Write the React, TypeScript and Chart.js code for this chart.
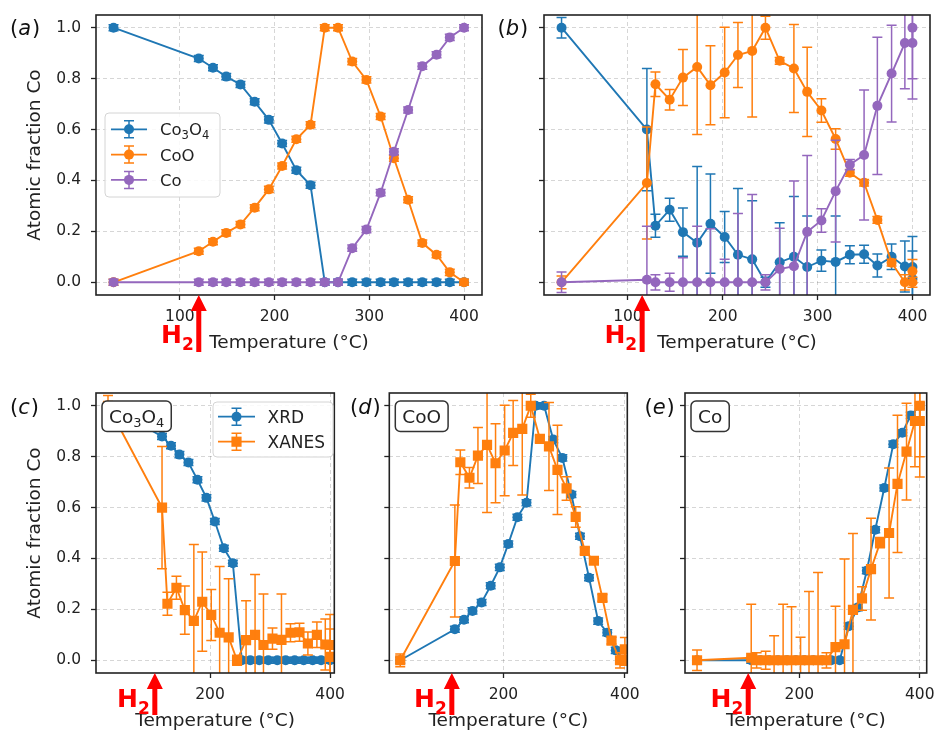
import React, { useEffect, useRef } from 'react';
import { Chart, registerables } from 'chart.js';

Chart.register(...registerables);

// ---------------- Data ----------------
// XRD (panel a, and blue series in c-e)
const xrdTemps = [30, 120, 135, 149, 164, 179, 194, 208, 223, 238, 253, 267, 282, 297, 312, 326, 341, 356, 371, 385, 400];
const xrdCo3O4 = [1.0, 0.879, 0.843, 0.808, 0.777, 0.709, 0.638, 0.545, 0.44, 0.381, 0, 0, 0, 0, 0, 0, 0, 0, 0, 0, 0];
const xrdCoO = [0, 0.122, 0.159, 0.194, 0.227, 0.293, 0.365, 0.457, 0.562, 0.619, 1.0, 1.0, 0.867, 0.795, 0.651, 0.487, 0.324, 0.154, 0.108, 0.039, 0];
const xrdCo = [0, 0, 0, 0, 0, 0, 0, 0, 0, 0, 0, 0, 0.134, 0.207, 0.352, 0.513, 0.677, 0.849, 0.894, 0.962, 1.0];
const xrdErr = 0.012;

// XANES (panel b, and orange series in c-e)
const xanesTemps = [30, 120, 129, 144, 158, 173, 187, 202, 216, 231, 245, 260, 275, 289, 304, 319, 334, 349, 363, 378, 392, 400, 400];
const xanesCo3O4 = [1.0, 0.6, 0.222, 0.285, 0.197, 0.155, 0.23, 0.178, 0.108, 0.09, 0.0, 0.079, 0.1, 0.06, 0.085, 0.08, 0.108, 0.11, 0.066, 0.1, 0.062, 0.06, 0.013];
const xanesCo3O4Err = [0.04, 0.24, 0.045, 0.045, 0.095, 0.3, 0.195, 0.1, 0.26, 0.23, 0.02, 0.155, 0.237, 0.2, 0.042, 0.18, 0.035, 0.035, 0.045, 0.05, 0.1, 0.12, 0.11];
const xanesCoO = [0.0, 0.39, 0.778, 0.717, 0.804, 0.846, 0.774, 0.824, 0.893, 0.909, 1.0, 0.87, 0.84, 0.748, 0.675, 0.563, 0.43, 0.391, 0.245, 0.077, 0.0, 0.0, 0.043];
const xanesCoOErr = [0.025, 0.22, 0.048, 0.04, 0.11, 0.265, 0.155, 0.178, 0.128, 0.26, 0.045, 0.013, 0.173, 0.175, 0.046, 0.04, 0.013, 0.013, 0.013, 0.013, 0.03, 0.02, 0.046];
const xanesCo = [0, 0.01, 0, 0, 0, 0, 0, 0, 0, 0, 0, 0.052, 0.063, 0.198, 0.243, 0.358, 0.462, 0.5, 0.693, 0.82, 0.94, 0.94, 1.0];
const xanesCoErr = [0.04, 0.21, 0.03, 0.035, 0.096, 0.22, 0.21, 0.09, 0.27, 0.345, 0.03, 0.16, 0.335, 0.3, 0.046, 0.2, 0.02, 0.255, 0.27, 0.19, 0.18, 0.22, 0.2];

// Tick values and texts
const yTicks = [0, 0.2, 0.4, 0.6, 0.8, 1.0];
const xTicksTop = [100, 200, 300, 400];
const xTicksBottom = [200, 400];
const yTitle = 'Atomic fraction Co';
const xTitle = 'Temperature (°C)';
const h2Label = 'H₂';

// ---------------- Styles ----------------
const FONT = "'DejaVu Sans', sans-serif";
const BLUE = '#1f77b4';
const ORANGE = '#ff7f0e';
const PURPLE = '#9467bd';
const RED = '#ff0000';
const TEXT = '#222222';
const W = 936;
const H = 731;
const CIRCLE_R = 5;
const RECT_R = 7.2;

type Series = {
  label: string;
  temps: number[];
  values: number[];
  errors: number[] | number;
  color: string;
  marker: string;
  order: number;
};

const sCo3O4Xrd: Series = { label: 'Co₃O₄', temps: xrdTemps, values: xrdCo3O4, errors: xrdErr, color: BLUE, marker: 'circle', order: 3 };
const sCoOXrd: Series = { label: 'CoO', temps: xrdTemps, values: xrdCoO, errors: xrdErr, color: ORANGE, marker: 'circle', order: 2 };
const sCoXrd: Series = { label: 'Co', temps: xrdTemps, values: xrdCo, errors: xrdErr, color: PURPLE, marker: 'circle', order: 1 };

const PANELS: any[] = [
  {
    id: 'a', letter: 'a', labelPos: [10, 34.5],
    plot: [96, 15, 482, 295], xRange: [11.5, 419], xTicks: xTicksTop, yLabels: true,
    series: [sCo3O4Xrd, sCoOXrd, sCoXrd],
    h2T: 120, arrowLen: 57, h2Base: 48,
    legend: { x: 105, y: 113, w: 115, h: 84, row0: 129.3, step: 25.3, font: 16.5, g0: 6, g1: 42, tx: 55 },
  },
  {
    id: 'b', letter: 'b', labelPos: [497.5, 34.5],
    plot: [544, 15, 930, 295], xRange: [11.5, 418.5], xTicks: xTicksTop, yLabels: false,
    series: [
      { label: 'Co₃O₄', temps: xanesTemps, values: xanesCo3O4, errors: xanesCo3O4Err, color: BLUE, marker: 'circle', order: 3 },
      { label: 'CoO', temps: xanesTemps, values: xanesCoO, errors: xanesCoOErr, color: ORANGE, marker: 'circle', order: 2 },
      { label: 'Co', temps: xanesTemps, values: xanesCo, errors: xanesCoErr, color: PURPLE, marker: 'circle', order: 1 },
    ],
    h2T: 115, arrowLen: 57, h2Base: 48,
  },
  {
    id: 'c', letter: 'c', labelPos: [10, 414],
    plot: [96, 393, 334.3, 673], xRange: [10, 407], xTicks: xTicksBottom, yLabels: true,
    series: [
      { label: 'XRD', temps: xrdTemps, values: xrdCo3O4, errors: xrdErr, color: BLUE, marker: 'circle', order: 2 },
      { label: 'XANES', temps: xanesTemps, values: xanesCo3O4, errors: xanesCo3O4Err, color: ORANGE, marker: 'rect', order: 1 },
    ],
    tag: 'Co₃O₄',
    h2T: 108, arrowLen: 42, h2Base: 34,
    legend: { x: 213, y: 402, w: 120, h: 55, row0: 416.7, step: 25, font: 17, g0: 5, g1: 42, tx: 54.5 },
  },
  {
    id: 'd', letter: 'd', labelPos: [350, 414],
    plot: [389.3, 393, 627.3, 673], xRange: [12, 404], xTicks: xTicksBottom, yLabels: false,
    series: [
      { label: 'XRD', temps: xrdTemps, values: xrdCoO, errors: xrdErr, color: BLUE, marker: 'circle', order: 2 },
      { label: 'XANES', temps: xanesTemps, values: xanesCoO, errors: xanesCoOErr, color: ORANGE, marker: 'rect', order: 1 },
    ],
    tag: 'CoO',
    h2T: 115, arrowLen: 42, h2Base: 34,
  },
  {
    id: 'e', letter: 'e', labelPos: [644.5, 414],
    plot: [685, 393, 926.7, 673], xRange: [10, 411.5], xTicks: xTicksBottom, yLabels: false,
    series: [
      { label: 'XRD', temps: xrdTemps, values: xrdCo, errors: xrdErr, color: BLUE, marker: 'circle', order: 2 },
      { label: 'XANES', temps: xanesTemps, values: xanesCo, errors: xanesCoErr, color: ORANGE, marker: 'rect', order: 1 },
    ],
    tag: 'Co',
    h2T: 115, arrowLen: 42, h2Base: 34,
  },
];

// ---------------- Drawing helpers ----------------
const SUBS = '₀₁₂₃₄₅₆₇₈₉';
function splitSubs(text: string) {
  const segs: { t: string; sub: boolean }[] = [];
  for (const ch of text) {
    const k = SUBS.indexOf(ch);
    const sub = k >= 0;
    const c = sub ? String(k) : ch;
    if (segs.length && segs[segs.length - 1].sub === sub) segs[segs.length - 1].t += c;
    else segs.push({ t: c, sub });
  }
  return segs;
}

function drawRich(ctx: any, text: string, x: number, baseline: number, size: number, align: string, weight = 'normal', subScale = 0.7, subDrop = 0.2, measureOnly = false) {
  const segs = splitSubs(text);
  const widths = segs.map((s) => {
    ctx.font = `${weight} ${s.sub ? size * subScale : size}px ${FONT}`;
    return ctx.measureText(s.t).width;
  });
  const total = widths.reduce((a, b) => a + b, 0);
  if (measureOnly) return total;
  let cx = align === 'left' ? x : align === 'right' ? x - total : x - total / 2;
  ctx.textAlign = 'left';
  ctx.textBaseline = 'alphabetic';
  segs.forEach((s, i) => {
    ctx.font = `${weight} ${s.sub ? size * subScale : size}px ${FONT}`;
    ctx.fillText(s.t, cx, baseline + (s.sub ? size * subDrop : 0));
    cx += widths[i];
  });
  return total;
}

function roundRect(ctx: any, x: number, y: number, w: number, h: number, r: number) {
  ctx.beginPath();
  ctx.moveTo(x + r, y);
  ctx.lineTo(x + w - r, y);
  ctx.arcTo(x + w, y, x + w, y + r, r);
  ctx.lineTo(x + w, y + h - r);
  ctx.arcTo(x + w, y + h, x + w - r, y + h, r);
  ctx.lineTo(x + r, y + h);
  ctx.arcTo(x, y + h, x, y + h - r, r);
  ctx.lineTo(x, y + r);
  ctx.arcTo(x, y, x + r, y, r);
  ctx.closePath();
}

function drawMarker(ctx: any, style: string, x: number, y: number, color: string) {
  ctx.fillStyle = color;
  ctx.beginPath();
  if (style === 'rect') {
    const s = RECT_R * Math.SQRT1_2;
    ctx.rect(x - s, y - s, 2 * s, 2 * s);
  } else {
    ctx.arc(x, y, CIRCLE_R, 0, Math.PI * 2);
  }
  ctx.fill();
}

const errorBarPlugin = {
  id: 'errorBars',
  afterDatasetDraw(chart: any, args: any) {
    const ds = chart.data.datasets[args.index];
    const errs = ds.errors;
    if (errs == null) return;
    const ys = chart.scales.y;
    const ctx = chart.ctx;
    const a = chart.chartArea;
    const cap = 5;
    ctx.save();
    ctx.beginPath();
    ctx.rect(a.left, a.top, a.right - a.left, a.bottom - a.top);
    ctx.clip();
    ctx.strokeStyle = ds.borderColor;
    ctx.lineWidth = 1.5;
    args.meta.data.forEach((pt: any, i: number) => {
      const e = Array.isArray(errs) ? errs[i] : errs;
      const v = ds.data[i].y;
      const yt = ys.getPixelForValue(v + e);
      const yb = ys.getPixelForValue(v - e);
      ctx.beginPath();
      ctx.moveTo(pt.x, yt);
      ctx.lineTo(pt.x, yb);
      ctx.moveTo(pt.x - cap, yt);
      ctx.lineTo(pt.x + cap, yt);
      ctx.moveTo(pt.x - cap, yb);
      ctx.lineTo(pt.x + cap, yb);
      ctx.stroke();
    });
    ctx.restore();
  },
};

const framePlugin = {
  id: 'frame',
  afterDatasetsDraw(chart: any) {
    const a = chart.chartArea;
    const ctx = chart.ctx;
    ctx.save();
    ctx.strokeStyle = '#222';
    ctx.lineWidth = 1.6;
    ctx.strokeRect(a.left, a.top, a.right - a.left, a.bottom - a.top);
    ctx.restore();
  },
};

function decorPlugin(p: any) {
  return {
    id: 'decor',
    afterDraw(chart: any) {
      const ctx = chart.ctx;
      const a = chart.chartArea;
      const xs = chart.scales.x;
      ctx.save();

      // panel label "(x)"
      ctx.fillStyle = '#111';
      ctx.textAlign = 'left';
      ctx.textBaseline = 'alphabetic';
      const [lx, ly] = p.labelPos;
      ctx.font = `21px ${FONT}`;
      ctx.fillText('(', lx, ly);
      let cx = lx + ctx.measureText('(').width;
      ctx.font = `italic 21px ${FONT}`;
      ctx.fillText(p.letter, cx, ly);
      cx += ctx.measureText(p.letter).width + 1;
      ctx.font = `21px ${FONT}`;
      ctx.fillText(')', cx, ly);

      // tag box
      if (p.tag) {
        const fs = 18.5;
        const tw = drawRich(ctx, p.tag, 0, 0, fs, 'left', 'normal', 0.7, 0.2, true);
        const bx = a.left + 6;
        const by = 401;
        const bw = tw + 14;
        const bh = 30.5;
        roundRect(ctx, bx, by, bw, bh, 5);
        ctx.fillStyle = '#ffffff';
        ctx.fill();
        ctx.strokeStyle = '#333';
        ctx.lineWidth = 1.5;
        ctx.stroke();
        ctx.fillStyle = TEXT;
        drawRich(ctx, p.tag, bx + 7, by + bh / 2 + 0.36 * fs, fs, 'left');
      }

      // legend
      if (p.legend) {
        const L = p.legend;
        roundRect(ctx, L.x, L.y, L.w, L.h, 4);
        ctx.fillStyle = 'rgba(255,255,255,0.85)';
        ctx.fill();
        ctx.strokeStyle = '#d4d4d4';
        ctx.lineWidth = 1;
        ctx.stroke();
        chart.data.datasets.forEach((ds: any, i: number) => {
          const yy = L.row0 + i * L.step;
          const x0 = L.x + L.g0;
          const x1 = L.x + L.g1;
          const xm = (x0 + x1) / 2;
          ctx.strokeStyle = ds.borderColor;
          ctx.lineWidth = 1.8;
          ctx.beginPath();
          ctx.moveTo(x0, yy);
          ctx.lineTo(x1, yy);
          ctx.stroke();
          ctx.lineWidth = 1.5;
          ctx.beginPath();
          ctx.moveTo(xm, yy - 8.5);
          ctx.lineTo(xm, yy + 8.5);
          ctx.moveTo(xm - 5, yy - 8.5);
          ctx.lineTo(xm + 5, yy - 8.5);
          ctx.moveTo(xm - 5, yy + 8.5);
          ctx.lineTo(xm + 5, yy + 8.5);
          ctx.stroke();
          drawMarker(ctx, ds.pointStyle, xm, yy, ds.borderColor);
          ctx.fillStyle = TEXT;
          drawRich(ctx, ds.label, L.x + L.tx, yy + 0.36 * L.font, L.font, 'left');
        });
      }

      // H2 arrow
      const ax = xs.getPixelForValue(p.h2T);
      const b = a.bottom;
      ctx.fillStyle = RED;
      ctx.beginPath();
      ctx.moveTo(ax, b);
      ctx.lineTo(ax + 8, b + 16);
      ctx.lineTo(ax + 2.5, b + 16);
      ctx.lineTo(ax + 2.5, b + p.arrowLen);
      ctx.lineTo(ax - 2.5, b + p.arrowLen);
      ctx.lineTo(ax - 2.5, b + 16);
      ctx.lineTo(ax - 8, b + 16);
      ctx.closePath();
      ctx.fill();
      drawRich(ctx, h2Label, ax - 5, b + p.h2Base, 25, 'right', 'bold', 0.68, 0.28);

      ctx.restore();
    },
  };
}

function makeChart(canvas: HTMLCanvasElement, p: any) {
  const [pl, pt, pr, pb] = p.plot;
  const yw = p.yLabels ? 72 : 10;
  const xh = 59;
  const datasets = p.series.map((s: Series) => ({
    label: s.label,
    data: s.temps.map((t, i) => ({ x: t, y: s.values[i] })),
    errors: s.errors,
    borderColor: s.color,
    backgroundColor: s.color,
    borderWidth: 1.9,
    pointStyle: s.marker,
    pointRadius: s.marker === 'rect' ? RECT_R : CIRCLE_R,
    pointHoverRadius: s.marker === 'rect' ? RECT_R : CIRCLE_R,
    pointBackgroundColor: s.color,
    pointBorderColor: s.color,
    pointBorderWidth: 0,
    tension: 0,
    fill: false,
    order: s.order,
  }));
  const grid = {
    color: 'rgba(0,0,0,0.16)',
    lineWidth: 1,
    drawTicks: true,
    tickLength: 5,
    tickWidth: 1.3,
    tickColor: '#222',
  };
  return new Chart(canvas, {
    type: 'line',
    data: { datasets },
    plugins: [errorBarPlugin, framePlugin, decorPlugin(p)],
    options: {
      responsive: false,
      animation: false,
      devicePixelRatio: 1,
      events: [],
      layout: { padding: { left: pl - yw, top: pt, right: W - pr, bottom: H - pb - xh } },
      plugins: { legend: { display: false }, tooltip: { enabled: false } },
      scales: {
        x: {
          type: 'linear',
          min: p.xRange[0],
          max: p.xRange[1],
          afterBuildTicks: (s: any) => { s.ticks = p.xTicks.map((v: number) => ({ value: v })); },
          afterFit: (s: any) => { s.height = xh; s.paddingLeft = 0; s.paddingRight = 0; },
          grid,
          border: { display: false, dash: [4, 3] },
          ticks: {
            autoSkip: false,
            maxRotation: 0,
            padding: 8,
            color: TEXT,
            font: { family: FONT, size: 15.5 },
            callback: (v: any) => String(v),
          },
          title: { display: true, text: xTitle, color: TEXT, font: { family: FONT, size: 18.5 }, padding: 0 },
        },
        y: {
          type: 'linear',
          min: -0.05,
          max: 1.05,
          afterBuildTicks: (s: any) => { s.ticks = yTicks.map((v) => ({ value: v })); },
          afterFit: (s: any) => { s.width = yw; s.paddingTop = 0; s.paddingBottom = 0; },
          grid,
          border: { display: false, dash: [4, 3] },
          ticks: {
            display: p.yLabels,
            autoSkip: false,
            padding: 10,
            color: TEXT,
            font: { family: FONT, size: 15.5 },
            callback: (v: any) => Number(v).toFixed(1),
          },
          title: { display: p.yLabels, text: yTitle, color: TEXT, font: { family: FONT, size: 18.5 }, padding: 0 },
        },
      },
    } as any,
  } as any);
}

export default function App() {
  const refs = useRef<(HTMLCanvasElement | null)[]>([]);
  useEffect(() => {
    const charts = PANELS.map((p, i) => makeChart(refs.current[i] as HTMLCanvasElement, p));
    return () => charts.forEach((c) => c.destroy());
  }, []);
  return (
    <div style={{ position: 'absolute', left: 0, top: 0, width: W, height: H, background: '#ffffff', overflow: 'hidden' }}>
      {PANELS.map((p, i) => (
        <canvas
          key={p.id}
          ref={(el) => { refs.current[i] = el; }}
          width={W}
          height={H}
          style={{ position: 'absolute', left: 0, top: 0, width: W, height: H }}
        />
      ))}
    </div>
  );
}
